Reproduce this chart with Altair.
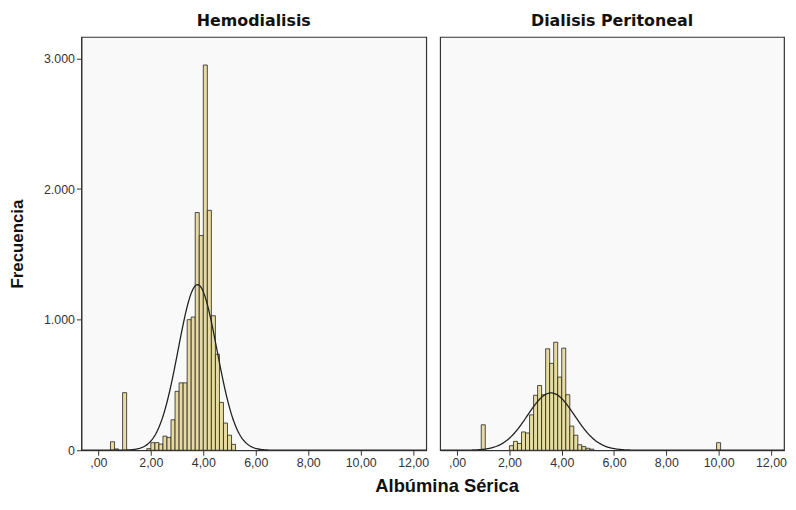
import altair as alt
import pandas as pd
import numpy as np

# ---- data ----
BIN_W = 0.1538

hemo_bin_start = [0.462, 0.615, 0.923, 1.846, 2.000, 2.154, 2.308, 2.462, 2.615, 2.769,
                  2.923, 3.077, 3.231, 3.385, 3.538, 3.692, 3.846, 4.000, 4.154, 4.308,
                  4.462, 4.615, 4.769, 4.923, 5.077]
hemo_count = [65, 10, 441, 12, 58, 58, 47, 108, 98, 233,
              451, 516, 516, 1000, 1020, 1820, 1644, 2950, 1837, 1030,
              735, 366, 208, 115, 45]

dp_bin_start = [0.923, 2.000, 2.154, 2.308, 2.462, 2.615, 2.769, 2.923, 3.077, 3.231,
                3.385, 3.538, 3.692, 3.846, 4.000, 4.154, 4.308, 4.462, 4.615, 4.769,
                4.923, 5.077, 9.920]
dp_count = [195, 35, 68, 52, 140, 132, 271, 421, 496, 425,
            777, 665, 827, 560, 782, 425, 185, 115, 42, 28,
            15, 8, 58]

# fitted normal curves (mean, sd, peak height in counts)
hemo_mean, hemo_sd, hemo_peak = 3.78, 0.74, 1268
dp_mean, dp_sd, dp_peak = 3.59, 0.90, 439

panel_titles = ["Hemodialisis", "Dialisis Peritoneal"]
x_ticks = [0, 2, 4, 6, 8, 10, 12]
y_ticks = [0, 1000, 2000, 3000]
X_DOMAIN = [-0.65, 12.5]
Y_DOMAIN = [0, 3165]

BAR_FILL = "#E8DBA2"
FRAME = "#333333"


def bars_df(starts, counts):
    return pd.DataFrame({
        "x0": starts,
        "x1": [s + BIN_W for s in starts],
        "count": counts,
        "zero": [0] * len(counts),
    })


def curve_df(mean, sd, peak):
    xs = np.linspace(X_DOMAIN[0], X_DOMAIN[1], 500)
    ys = peak * np.exp(-0.5 * ((xs - mean) / sd) ** 2)
    return pd.DataFrame({"x": xs, "y": ys})


x_scale = alt.Scale(domain=X_DOMAIN, nice=False, zero=False)
y_scale = alt.Scale(domain=Y_DOMAIN, nice=False)

x_axis = alt.Axis(
    values=x_ticks,
    labelExpr="datum.value == 0 ? ',00' : replace(format(datum.value, '.2f'), '.', ',')",
    title=None, grid=False, tickSize=5, tickColor=FRAME, domainColor=FRAME,
    labelFont="Liberation Sans", labelFontSize=12.5, labelColor="#333", labelPadding=1,
    labelFlush=False,
)

y_axis = alt.Axis(
    values=y_ticks,
    labelExpr="replace(format(datum.value, ','), ',', '.')",
    title="Frecuencia", grid=False, tickSize=5, tickColor=FRAME, domainColor=FRAME,
    labelFont="Liberation Sans", labelFontSize=12.5, labelColor="#333", labelPadding=2,
    titleFont="Liberation Sans", titleFontSize=17, titleFontWeight="bold", titleColor="#111",
    titlePadding=17,
)


def panel(title, starts, counts, mean, sd, peak, show_y, width):
    bars = alt.Chart(bars_df(starts, counts)).mark_rect(
        fill=BAR_FILL, stroke="#222", strokeWidth=0.8
    ).encode(
        x=alt.X("x0:Q", scale=x_scale, axis=x_axis),
        x2="x1:Q",
        y=alt.Y("count:Q", scale=y_scale, axis=y_axis if show_y else None),
        y2="zero:Q",
    )
    curve = alt.Chart(curve_df(mean, sd, peak)).mark_line(
        color="#222", strokeWidth=1.3, clip=True
    ).encode(
        x=alt.X("x:Q", scale=x_scale),
        y=alt.Y("y:Q", scale=y_scale),
    )
    return alt.layer(bars, curve).properties(
        width=width, height=417,
        title=alt.TitleParams(title, font="DejaVu Sans", fontSize=16, fontWeight="bold",
                              color="#111", offset=8, anchor="middle"),
    )


left = panel(panel_titles[0], hemo_bin_start, hemo_count, hemo_mean, hemo_sd, hemo_peak, True, 348)
right = panel(panel_titles[1], dp_bin_start, dp_count, dp_mean, dp_sd, dp_peak, False, 347)

chart = alt.hconcat(left, right, spacing=9).properties(
    title=alt.TitleParams("Albúmina Sérica", orient="bottom", anchor="middle",
                          font="Liberation Sans", fontSize=18.5, fontWeight="bold",
                          color="#111", offset=8, dx=50),
    padding={"left": 0, "top": 2, "right": 0, "bottom": 0},
).configure_view(
    stroke=FRAME, strokeWidth=1.2, fill="#F9F9F9"
)

chart.save("out.html", embed_options={"renderer": "svg", "actions": False})
